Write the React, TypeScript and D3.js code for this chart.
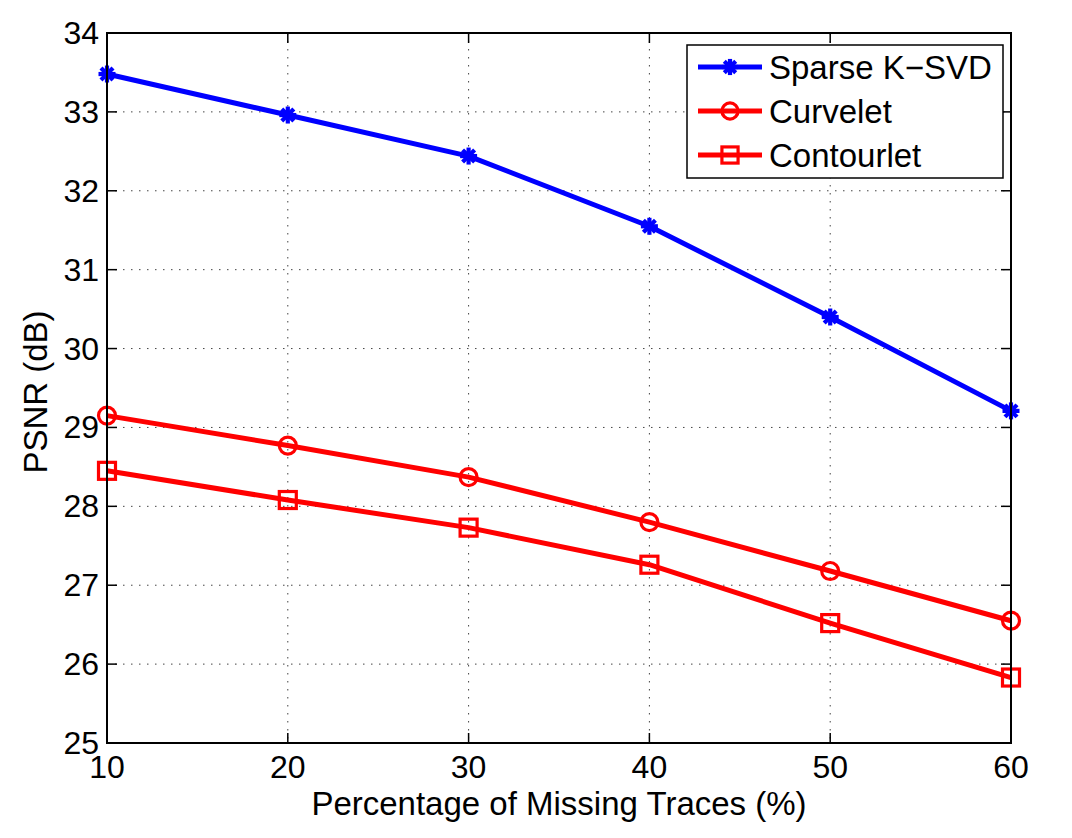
import React, { useEffect, useRef } from 'react';
import * as d3 from 'd3';

// Chart data
const missingPct = [10, 20, 30, 40, 50, 60];
const sparseKsvd = [33.48, 32.96, 32.44, 31.55, 30.4, 29.21];
const curvelet = [29.15, 28.77, 28.37, 27.8, 27.18, 26.55];
const contourlet = [28.45, 28.08, 27.73, 27.26, 26.52, 25.83];
const xTicks = [10, 20, 30, 40, 50, 60];
const yTicks = [25, 26, 27, 28, 29, 30, 31, 32, 33, 34];

const seriesList = [
  { name: 'Sparse K\u2212SVD', values: sparseKsvd, color: '#0000ff', marker: 'star' },
  { name: 'Curvelet', values: curvelet, color: '#ff0000', marker: 'circle' },
  { name: 'Contourlet', values: contourlet, color: '#ff0000', marker: 'square' },
];

const FONT = '"Liberation Sans", Arial, Helvetica, sans-serif';

function drawMarker(g: any, kind: string, x: number, y: number, color: string, scale = 1) {
  if (kind === 'circle') {
    g.append('circle')
      .attr('cx', x).attr('cy', y).attr('r', 8.5 * scale)
      .attr('fill', 'none').attr('stroke', color).attr('stroke-width', 3.2);
  } else if (kind === 'square') {
    const s = 8.5 * scale;
    g.append('rect')
      .attr('x', x - s).attr('y', y - s).attr('width', 2 * s).attr('height', 2 * s)
      .attr('fill', 'none').attr('stroke', color).attr('stroke-width', 3.2);
  } else {
    const r = 8.5 * scale;
    const d = r * Math.SQRT1_2;
    const segs = [
      [x - r, y, x + r, y],
      [x, y - r, x, y + r],
      [x - d, y - d, x + d, y + d],
      [x - d, y + d, x + d, y - d],
    ];
    segs.forEach(([x1, y1, x2, y2]) => {
      g.append('line')
        .attr('x1', x1).attr('y1', y1).attr('x2', x2).attr('y2', y2)
        .attr('stroke', color).attr('stroke-width', 4.2);
    });
  }
}

function PsnrChart() {
  const ref = useRef<SVGSVGElement>(null);

  useEffect(() => {
    const width = 1072;
    const height = 838;
    const margin = { top: 33, right: 61, bottom: 95, left: 107 };

    const svg = d3.select(ref.current);
    svg.selectAll('*').remove();

    const x = d3.scaleLinear()
      .domain([10, 60])
      .range([margin.left, width - margin.right]);

    const y = d3.scaleLinear()
      .domain([25, 34])
      .range([height - margin.bottom, margin.top]);

    const x0 = margin.left, x1 = width - margin.right;
    const y0 = margin.top, y1 = height - margin.bottom;

    svg.append('rect')
      .attr('width', width).attr('height', height).attr('fill', '#fff');

    // dotted grid
    const grid = svg.append('g')
      .attr('stroke', '#444').attr('stroke-width', 1).attr('stroke-dasharray', '1.5,6.5');
    xTicks.slice(1, -1).forEach(t => {
      grid.append('line').attr('x1', x(t)).attr('x2', x(t)).attr('y1', y0).attr('y2', y1);
    });
    yTicks.slice(1, -1).forEach(t => {
      grid.append('line').attr('x1', x0).attr('x2', x1).attr('y1', y(t)).attr('y2', y(t));
    });

    // ticks inside on all four sides
    const tickLen = 10;
    const ticks = svg.append('g').attr('stroke', '#000').attr('stroke-width', 1.5);
    xTicks.forEach(t => {
      ticks.append('line').attr('x1', x(t)).attr('x2', x(t)).attr('y1', y1).attr('y2', y1 - tickLen);
      ticks.append('line').attr('x1', x(t)).attr('x2', x(t)).attr('y1', y0).attr('y2', y0 + tickLen);
    });
    yTicks.forEach(t => {
      ticks.append('line').attr('x1', x0).attr('x2', x0 + tickLen).attr('y1', y(t)).attr('y2', y(t));
      ticks.append('line').attr('x1', x1).attr('x2', x1 - tickLen).attr('y1', y(t)).attr('y2', y(t));
    });

    // tick labels
    const labels = svg.append('g').attr('font-family', FONT).attr('font-size', 32).attr('fill', '#000');
    xTicks.forEach(t => {
      labels.append('text')
        .attr('x', x(t)).attr('y', y1 + 35)
        .attr('text-anchor', 'middle')
        .text(t);
    });
    yTicks.forEach(t => {
      labels.append('text')
        .attr('x', x0 - 8).attr('y', y(t) + 11)
        .attr('text-anchor', 'end')
        .text(t);
    });

    // axis titles
    svg.append('text')
      .attr('x', (x0 + x1) / 2).attr('y', y1 + 72)
      .attr('text-anchor', 'middle')
      .attr('font-family', FONT).attr('font-size', 33)
      .text('Percentage of Missing Traces (%)');

    svg.append('text')
      .attr('transform', `translate(47,${(y0 + y1) / 2 + 4}) rotate(-90)`)
      .attr('text-anchor', 'middle')
      .attr('font-family', FONT).attr('font-size', 33)
      .text('PSNR (dB)');

    // series
    const line = d3.line<number>()
      .x((_, i) => x(missingPct[i]))
      .y(d => y(d));

    seriesList.forEach(s => {
      svg.append('path')
        .attr('d', line(s.values))
        .attr('fill', 'none')
        .attr('stroke', s.color)
        .attr('stroke-width', 5)
        .attr('stroke-linejoin', 'round');
      const mg = svg.append('g');
      s.values.forEach((v, i) => drawMarker(mg, s.marker, x(missingPct[i]), y(v), s.color));
    });

    // axes box
    svg.append('rect')
      .attr('x', x0).attr('y', y0).attr('width', x1 - x0).attr('height', y1 - y0)
      .attr('fill', 'none').attr('stroke', '#000').attr('stroke-width', 2);

    // legend
    const lg = svg.append('g');
    lg.append('rect')
      .attr('x', 687).attr('y', 45).attr('width', 316).attr('height', 133)
      .attr('fill', '#fff').attr('stroke', '#000').attr('stroke-width', 1.5);
    seriesList.forEach((s, i) => {
      const ly = 67 + i * 44;
      lg.append('line')
        .attr('x1', 698).attr('x2', 762).attr('y1', ly).attr('y2', ly)
        .attr('stroke', s.color).attr('stroke-width', 5);
      drawMarker(lg, s.marker, 730, ly, s.color, 0.95);
      lg.append('text')
        .attr('x', 769).attr('y', ly + 12)
        .attr('font-family', FONT).attr('font-size', 33)
        .text(s.name);
    });
  }, []);

  return <svg ref={ref} width={1072} height={838} style={{ position: 'absolute', left: 0, top: 0 }}></svg>;
}

export default function App() {
  return <PsnrChart />;
}
